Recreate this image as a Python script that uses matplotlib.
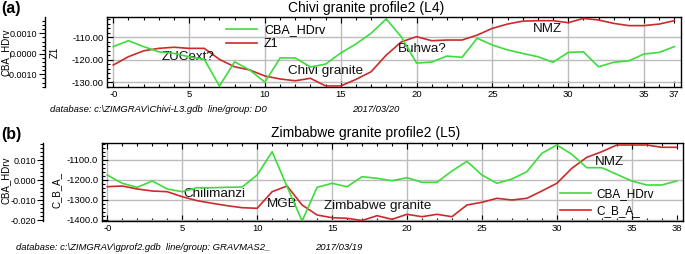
import matplotlib
matplotlib.use("Agg")
import matplotlib.pyplot as plt
from matplotlib.ticker import FixedLocator, MultipleLocator, FormatStrFormatter

plt.rcParams['font.family'] = ['Liberation Sans', 'DejaVu Sans']
plt.rcParams['axes.unicode_minus'] = False

# ---------------- data: panel (a) ----------------
a_x = list(range(0, 38))
a_cba = [0.00035, 0.00064, 0.00035, 0.0001, 0.00002, -0.00014, -0.00027, -0.00157,
         -0.00039, -0.00079, -0.00138, -0.0002, -0.0002, -0.00064, -0.0005, 0.00004,
         0.00048, 0.001, 0.0017, 0.00082, -0.00045, -0.0004, -0.00011, -0.00017,
         0.00076, 0.00043, 0.00019, 0.00002, -0.00014, -0.00041, 0.00007, 0.0001,
         -0.00063, -0.00041, -0.00034, -0.00001, 0.00007, 0.00035]
a_z1 = [-122.3, -118.6, -116.0, -114.9, -114.4, -114.9, -114.9, -119.8, -123.1, -124.5,
        -127.2, -128.5, -129.3, -128.2, -131.6, -131.6, -128.7, -125.3, -117.9, -112.0,
        -109.7, -111.5, -111.2, -111.2, -109.0, -106.0, -104.1, -102.8, -102.6, -102.6,
        -103.5, -101.6, -102.3, -103.8, -104.8, -104.8, -104.1, -102.6]
a_xticks = [0, 5, 10, 15, 20, 25, 30, 35, 37]
a_xticklabels = ['-0', '5', '10', '15', '20', '25', '30', '35', '37']
a_z1_ticks = [-130, -120, -110]
a_cba_ticks = [-0.001, 0.0, 0.001]
a_notes = [("ZUCext?", 4.93, -118.8), ("Chivi granite", 13.97, -125.0),
           ("Buhwa?", 20.36, -115.2), ("NMZ", 28.6, -106.3)]

# ---------------- data: panel (b) ----------------
b_x = list(range(0, 39))
b_cba = [0.0025, -0.00165, -0.00365, -0.0005, -0.0045, -0.00585, -0.00385, -0.00385,
         -0.00365, -0.0035, 0.0025, 0.01415, -0.00335, -0.0205, -0.00365, -0.00165,
         -0.00335, 0.00165, 0.00085, -0.00035, 0.00115, -0.00115, -0.00115, 0.0045,
         0.00935, 0.0025, -0.00165, 0.0005, 0.00415, 0.01335, 0.0175, 0.01285, 0.00615,
         0.00615, 0.00285, -0.0005, -0.0025, -0.0025, -0.0005]
b_cba2 = [-1236, -1232.5, -1247.5, -1257.5, -1261, -1286, -1306, -1319, -1331, -1341,
          -1344, -1261, -1232.5, -1327.5, -1377.5, -1391, -1394, -1405, -1381, -1399,
          -1374, -1386, -1374, -1386, -1327.5, -1314, -1294, -1302.5, -1294, -1257.5,
          -1219, -1144, -1089, -1061, -1027.5, -1027.5, -1027.5, -1039, -1039]
b_xticks = [0, 5, 10, 15, 20, 25, 30, 35, 38]
b_xticklabels = ['-0', '5', '10', '15', '20', '25', '30', '35', '38']
b_cba2_ticks = [-1400, -1300, -1200, -1100]
b_cba_ticks = [-0.02, -0.01, 0.0, 0.01]
b_notes = [("Chilimanzi", 7.12, -1272.5), ("MGB", 11.66, -1322.5),
           ("Zimbabwe granite", 18.07, -1332.5), ("NMZ", 33.52, -1112.5)]

GREEN = '#3ddc3d'
RED = '#cc2a2a'
GRID = '#bcbcbc'
W, H = 685, 254

fig = plt.figure(figsize=(W / 100, H / 100), dpi=100)


def fx(px):
    return px / W


def fy(py):
    return 1 - py / H


def make_panel(box, xlim, x, g, r, ylim_r, ylim_g, xticks, xticklabels, rticks, gticks,
               rfmt, gfmt, rminor, gminor, offset, notes, green_lab, red_lab):
    l, t, rr, b = box
    ax = fig.add_axes([fx(l), fy(b), fx(rr - l), (b - t) / H])
    ax.set_xlim(*xlim)
    ax.set_ylim(*ylim_r)
    ax.set_xticks(xticks)
    ax.set_xticklabels(xticklabels)
    ax.xaxis.set_minor_locator(MultipleLocator(1))
    ax.set_yticks(rticks)
    ax.yaxis.set_major_formatter(FormatStrFormatter(rfmt))
    ax.yaxis.set_minor_locator(MultipleLocator(rminor))
    ax.grid(True, which='major', color=GRID, lw=1.0)
    ax.get_xgridlines()[-1].set_visible(False)
    ax.tick_params(axis='both', which='both', direction='in', top=True, right=True,
                   labelsize=6.8, width=0.8, colors='black')
    ax.tick_params(axis='both', which='major', length=4)
    ax.tick_params(axis='both', which='minor', length=2)
    ax.tick_params(axis='x', pad=2)
    ax.tick_params(axis='y', pad=2.5)
    for s in ax.spines.values():
        s.set_linewidth(1.0)
    lr, = ax.plot(x, r, color=RED, lw=1.2, label=red_lab, zorder=3)

    ax2 = ax.twinx()
    ax2.set_ylim(*ylim_g)
    ax2.spines['right'].set_visible(False)
    ax2.spines['top'].set_visible(False)
    ax2.spines['bottom'].set_visible(False)
    ax2.spines['left'].set_visible(True)
    ax2.spines['left'].set_position(('axes', offset))
    ax2.spines['left'].set_linewidth(1.0)
    ax2.yaxis.set_ticks_position('left')
    ax2.yaxis.set_label_position('left')
    ax2.set_yticks(gticks)
    ax2.yaxis.set_major_formatter(FormatStrFormatter(gfmt))
    ax2.yaxis.set_minor_locator(MultipleLocator(gminor))
    ax2.tick_params(axis='y', which='both', direction='out', labelsize=6.5, width=0.8,
                    pad=1.5)
    ax2.tick_params(axis='y', which='major', length=4)
    ax2.tick_params(axis='y', which='minor', length=2)
    lg, = ax2.plot(x, g, color=GREEN, lw=1.2, label=green_lab, zorder=3)

    for txt, xx, yy in notes:
        ax.text(xx, yy, txt, ha='center', va='center', fontsize=9.7, color='#111111',
                zorder=5)
    return ax, ax2, lg, lr


# panel (a)
axa, axa2, lga, lra = make_panel((107.3, 17.3, 681, 87.3), (-0.396, 37.44), a_x, a_cba, a_z1,
                                 (-132.2, -101.1), (-0.00163, 0.00178), a_xticks, a_xticklabels,
                                 a_z1_ticks, a_cba_ticks, '%.2f', '%.4f', 2, 0.0002, -0.1086,
                                 a_notes, 'CBA_HDrv', 'Z1')
leg_a = fig.legend(handles=[lga, lra], loc='upper left', bbox_to_anchor=(fx(226), fy(24)),
                   frameon=False, fontsize=9, handlelength=2.5, handletextpad=0.55,
                   labelspacing=0.15, borderpad=0, borderaxespad=0)

# panel (b)
axb, axb2, lgb, lrb = make_panel((101.7, 143.3, 682.7, 221), (-0.374, 38.4), b_x, b_cba, b_cba2,
                                 (-1407.5, -1019), (-0.0205, 0.01835), b_xticks, b_xticklabels,
                                 b_cba2_ticks, b_cba_ticks, '%.1f', '%.3f', 20, 0.002, -0.1002,
                                 b_notes, 'CBA_HDrv', 'C_B_A_')
leg_b = fig.legend(handles=[lgb, lrb], loc='upper left', bbox_to_anchor=(fx(560), fy(188)),
                   frameon=False, fontsize=8.5, handlelength=2.6, handletextpad=0.45,
                   labelspacing=0.45, borderpad=0, borderaxespad=0)

# axis labels
fig.text(fx(6), fy(52), 'CBA_HDrv', rotation=90, ha='center', va='center', fontsize=7)
fig.text(fx(55), fy(52), 'Z1', rotation=90, ha='center', va='center', fontsize=7)
fig.text(fx(6), fy(180), 'CBA_HDrv', rotation=90, ha='center', va='center', fontsize=7)
fig.text(fx(57), fy(190), 'C_B_A_', rotation=90, ha='center', va='center', fontsize=7)

# titles and panel letters
fig.text(fx(366), fy(8), 'Chivi granite profile2 (L4)', ha='center', va='center', fontsize=10)
fig.text(fx(366), fy(133), 'Zimbabwe granite profile2 (L5)', ha='center', va='center', fontsize=10)
fig.text(fx(1), fy(8), '(a)', ha='left', va='center', fontsize=11.5, fontweight='bold')
fig.text(fx(1), fy(134), '(b)', ha='left', va='center', fontsize=11.5, fontweight='bold')

# footer texts
fig.text(fx(50), fy(110), r'database: c:\ZIMGRAV\Chivi-L3.gdb  line/group: D0', ha='left',
         va='center', fontsize=6.8, style='italic')
fig.text(fx(352), fy(110), '2017/03/20', ha='left', va='center', fontsize=6.8, style='italic')
fig.text(fx(16), fy(248), r'database: c:\ZIMGRAV\gprof2.gdb  line/group: GRAVMAS2_', ha='left',
         va='center', fontsize=6.8, style='italic')
fig.text(fx(315), fy(248), '2017/03/19', ha='left', va='center', fontsize=6.8, style='italic')

fig.savefig('out.png', dpi=100)
